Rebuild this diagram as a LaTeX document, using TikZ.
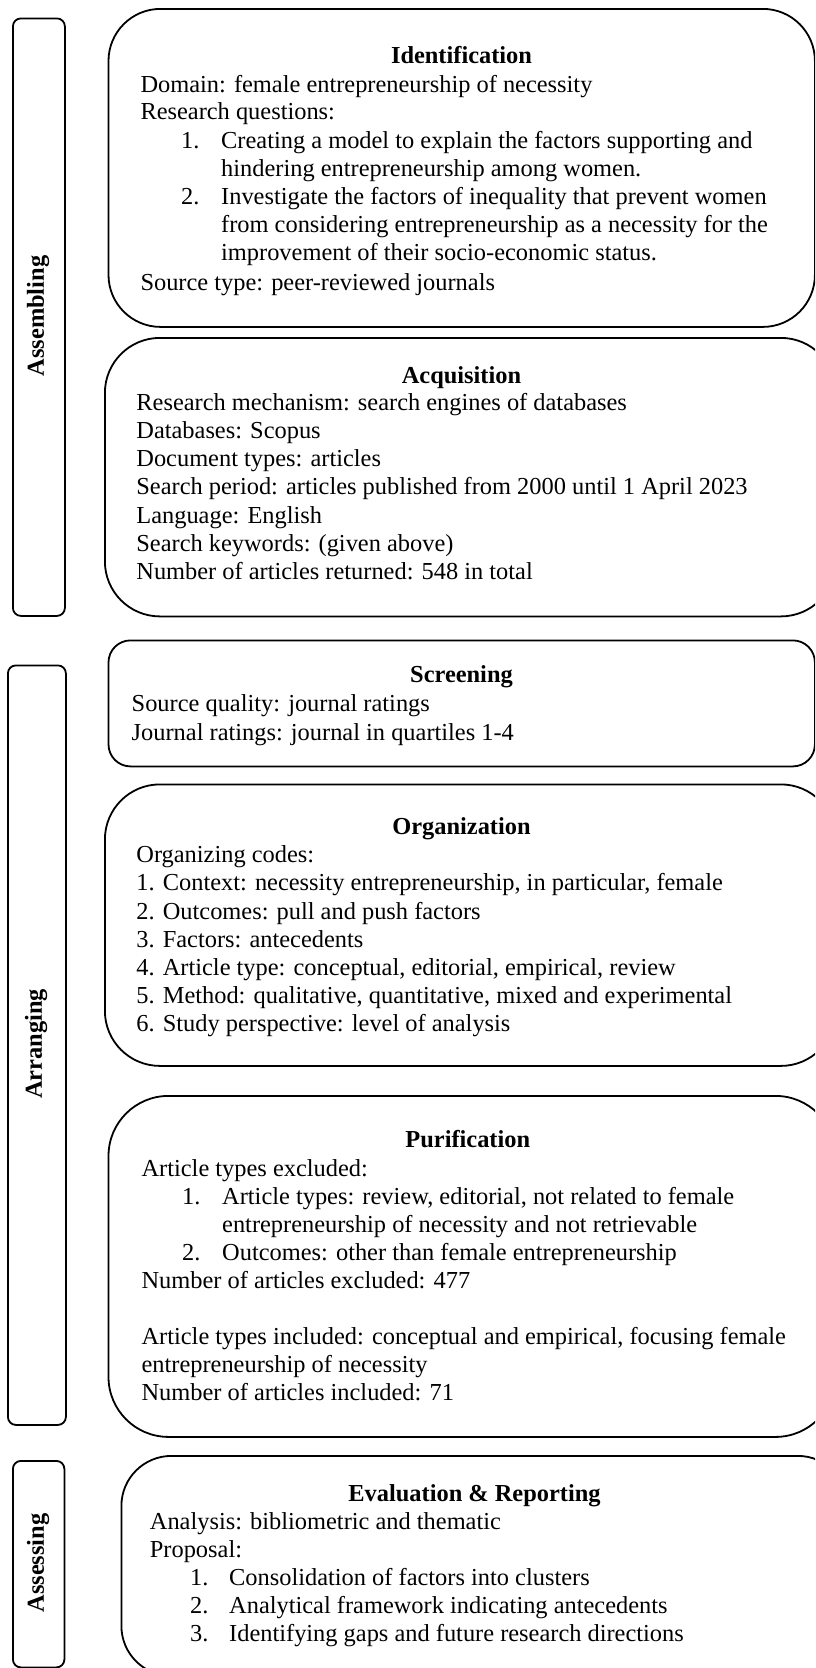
\documentclass[tikz,border=0pt]{standalone}
\usepackage{fontspec}
\setmainfont{Liberation Serif}
\begin{document}
\begin{tikzpicture}[x=1pt,y=-1pt,
  frame/.style={draw=black,line width=1.8pt,anchor=north west,inner sep=0pt,rounded corners=55pt},
  side/.style={draw=black,line width=1.8pt,anchor=north west,inner sep=0pt,rounded corners=8pt},
  lbl/.style={rotate=90,inner sep=0pt,font=\fontsize{24.4}{28}\selectfont\bfseries},
  ln/.style={anchor=base west,inner sep=0pt,font=\fontsize{24.4}{28}\selectfont},
  ttl/.style={anchor=base,inner sep=0pt,font=\fontsize{24.4}{28}\selectfont\bfseries}]
\useasboundingbox (0,0) rectangle (815,1668);
\clip (0,0) rectangle (815,1668);

% side boxes
\node[side,minimum width=52pt,minimum height=597.5pt] (sA) at (12,17.5) {};
\node[lbl] (lA) at (38,316) {Assembling};
\node[side,minimum width=58pt,minimum height=759.5pt] (sB) at (7,664.5) {};
\node[lbl] (lB) at (36,1044) {Arranging};
\node[side,minimum width=51.5pt,minimum height=206.5pt] (sC) at (12,1460) {};
\node[lbl] (lC) at (38,1563) {Assessing};

% Identification
\node[frame,rounded corners=52pt,minimum width=706.4pt,minimum height=318pt] (bI) at (107.6,8) {};
\node[ttl] (tI) at (461.5,63) {Identification};
\node[ln] (i1) at (140.3,92) {Domain: female entrepreneurship of necessity};
\node[ln] (i2) at (140.3,119.8) {Research questions:};
\node[ln] (i3n) at (181,148) {1.};
\node[ln] (i3) at (221,148) {Creating a model to explain the factors supporting and};
\node[ln] (i4) at (221,176) {hindering entrepreneurship among women.};
\node[ln] (i5n) at (181,204) {2.};
\node[ln] (i5) at (221,204) {Investigate the factors of inequality that prevent women};
\node[ln] (i6) at (221,232) {from considering entrepreneurship as a necessity for the};
\node[ln] (i7) at (221,260) {improvement of their socio-economic status.};
\node[ln] (i8) at (140.3,290) {Source type: peer-reviewed journals};

% Acquisition
\node[frame,minimum width=731pt,minimum height=278.5pt] (bA) at (104,337) {};
\node[ttl] (tA) at (461.5,383) {Acquisition};
\node[ln] (a1) at (136.2,410) {Research mechanism: search engines of databases};
\node[ln] (a2) at (136.2,438.3) {Databases: Scopus};
\node[ln] (a3) at (136.2,466.6) {Document types: articles};
\node[ln] (a4) at (136.2,494.9) {Search period: articles published from 2000 until 1 April 2023};
\node[ln] (a5) at (136.2,523.2) {Language: English};
\node[ln] (a6) at (136.2,551.5) {Search keywords: (given above)};
\node[ln] (a7) at (136.2,579.8) {Number of articles returned: 548 in total};

% Screening
\node[frame,rounded corners=22pt,minimum width=706.4pt,minimum height=126pt] (bS) at (107.6,639.5) {};
\node[ttl] (tS) at (461.5,682) {Screening};
\node[ln] (s1) at (131.5,711.6) {Source quality: journal ratings};
\node[ln] (s2) at (131.5,740.6) {Journal ratings: journal in quartiles 1-4};

% Organization
\node[frame,minimum width=731pt,minimum height=281.5pt] (bO) at (104,783.5) {};
\node[ttl] (tO) at (461.5,834) {Organization};
\node[ln] (o1) at (136.2,862.7) {Organizing codes:};
\node[ln] (o2) at (136.2,890.85) {1. Context: necessity entrepreneurship, in particular, female};
\node[ln] (o3) at (136.2,919) {2. Outcomes: pull and push factors};
\node[ln] (o4) at (136.2,947.15) {3. Factors: antecedents};
\node[ln] (o5) at (136.2,975.3) {4. Article type: conceptual, editorial, empirical, review};
\node[ln] (o6) at (136.2,1003.45) {5. Method: qualitative, quantitative, mixed and experimental};
\node[ln] (o7) at (136.2,1031.6) {6. Study perspective: level of analysis};

% Purification
\node[frame,rounded corners=60pt,minimum width=727pt,minimum height=341pt] (bP) at (107.6,1095) {};
\node[ttl] (tP) at (467.8,1147) {Purification};
\node[ln] (p1) at (141.4,1176) {Article types excluded:};
\node[ln] (p2n) at (182,1204.1) {1.};
\node[ln] (p2) at (222,1204.1) {Article types: review, editorial, not related to female};
\node[ln] (p3) at (222,1232.2) {entrepreneurship of necessity and not retrievable};
\node[ln] (p4n) at (182,1260.3) {2.};
\node[ln] (p4) at (222,1260.3) {Outcomes: other than female entrepreneurship};
\node[ln] (p5) at (141.4,1288.4) {Number of articles excluded: 477};
\node[ln] (p6) at (141.4,1344.6) {Article types included: conceptual and empirical, focusing female};
\node[ln] (p7) at (141.4,1372.7) {entrepreneurship of necessity};
\node[ln] (p8) at (141.4,1400.8) {Number of articles included: 71};

% Evaluation & Reporting
\node[frame,rounded corners=50pt,minimum width=726.5pt,minimum height=220pt] (bE) at (120.5,1455) {};
\node[ttl] (tE) at (474.5,1501) {Evaluation \& Reporting};
\node[ln] (e1) at (149.7,1529.5) {Analysis: bibliometric and thematic};
\node[ln] (e2) at (149.7,1557.6) {Proposal:};
\node[ln] (e3n) at (190,1585.7) {1.};
\node[ln] (e3) at (229,1585.7) {Consolidation of factors into clusters};
\node[ln] (e4n) at (190,1613.8) {2.};
\node[ln] (e4) at (229,1613.8) {Analytical framework indicating antecedents};
\node[ln] (e5n) at (190,1641.9) {3.};
\node[ln] (e5) at (229,1641.9) {Identifying gaps and future research directions};
\end{tikzpicture}
\end{document}
